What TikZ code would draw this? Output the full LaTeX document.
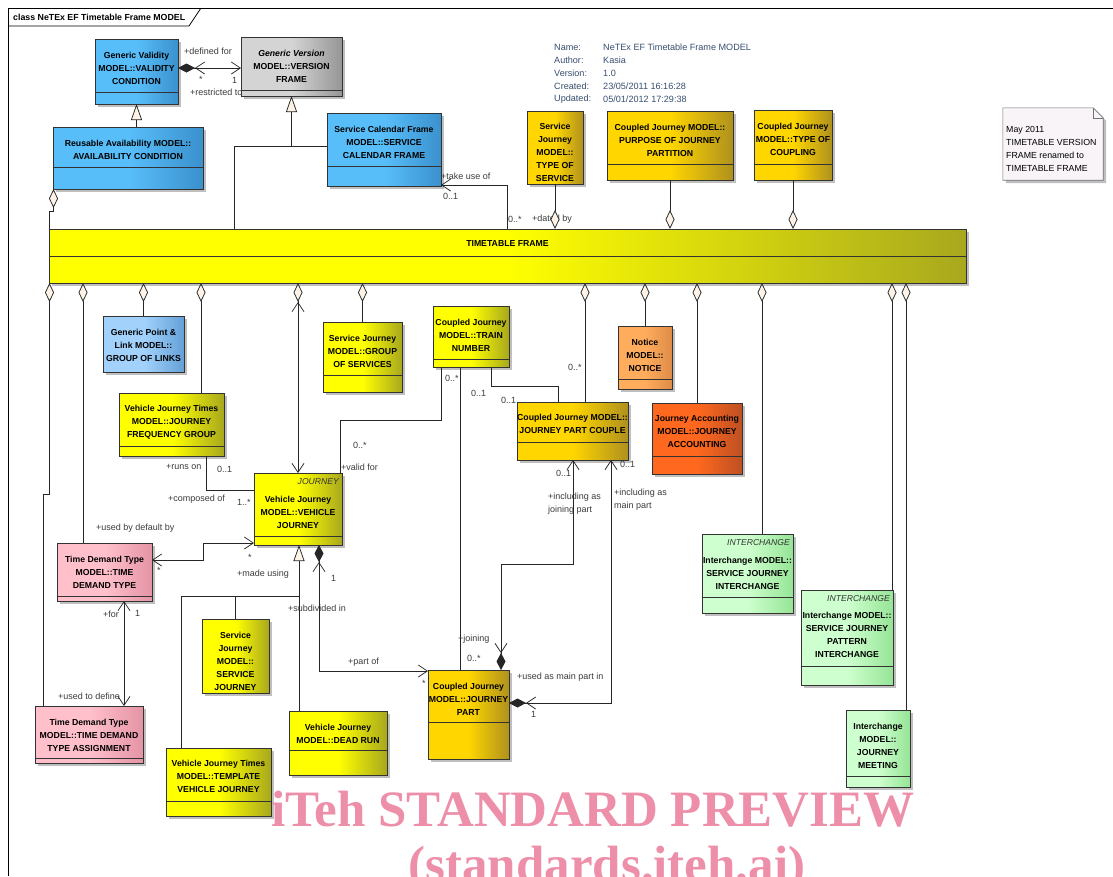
\documentclass[tikz,border=0pt]{standalone}
\usepackage{fontspec}
\setmainfont{Liberation Sans}
\newfontfamily\wmfont{Liberation Serif}
\usetikzlibrary{arrows.meta,shadows,fit,calc}

\definecolor{blueA}{RGB}{88,190,250}   \definecolor{blueB}{RGB}{58,145,205}
\definecolor{lblueA}{RGB}{162,210,252} \definecolor{lblueB}{RGB}{100,160,215}
\definecolor{grayA}{RGB}{212,212,212}  \definecolor{grayB}{RGB}{150,150,150}
\definecolor{yelA}{RGB}{255,255,0}     \definecolor{yelB}{RGB}{168,168,30}
\definecolor{goldA}{RGB}{255,214,0}    \definecolor{goldB}{RGB}{175,145,30}
\definecolor{orA}{RGB}{255,172,92}     \definecolor{orB}{RGB}{222,140,72}
\definecolor{dorA}{RGB}{255,104,30}    \definecolor{dorB}{RGB}{190,80,35}
\definecolor{pinkA}{RGB}{255,192,203}  \definecolor{pinkB}{RGB}{228,148,165}
\definecolor{grnA}{RGB}{206,255,206}   \definecolor{grnB}{RGB}{150,228,150}
\definecolor{notefill}{RGB}{248,244,248}
\definecolor{aggfill}{RGB}{253,243,230}
\definecolor{wmpink}{RGB}{238,143,170}
\definecolor{metatext}{RGB}{55,78,110}
\definecolor{lbltext}{RGB}{60,60,60}

% class box: name, fill style, x1, y1, x2, y2, divider y, text centre y, text
\newcommand\umlclass[9]{%
  \node[classbox,#2,fit={(#3,#4) (#5,#6)}] (#1) {};
  \draw[divider] (#3,#7) -- (#5,#7);
  \node[classname] (#1-name) at ({(#3+#5)/2},#8) {#9};}

\tikzset{
  navtip/.tip={Straight Barb[length=9pt,width=12pt]},
  comptip/.tip={Diamond[length=17pt,width=9pt]},
  aggtip/.tip={Diamond[length=19pt,width=9pt,fill=aggfill]},
  gentip/.tip={Triangle[length=16pt,width=11pt,fill=aggfill]},
  classbox/.style={draw=black!80, line width=0.8pt, inner sep=0pt, outer sep=0pt,
    drop shadow={shadow xshift=3pt, shadow yshift=-3pt, fill=black, opacity=0.25}},
  divider/.style={draw=black!80, line width=0.8pt},
  classname/.style={font=\fontsize{8.7}{13}\selectfont\bfseries, align=center, inner sep=0pt},
  stereo/.style={font=\fontsize{8.6}{10}\selectfont\itshape, text=black!80, inner sep=0pt, anchor=east},
  fblue/.style={left color=blueA, right color=blueB, middle color=blueA},
  flblue/.style={left color=lblueA, right color=lblueB, middle color=lblueA},
  fgray/.style={left color=grayA, right color=grayB, middle color=grayA},
  fyel/.style={left color=yelA, right color=yelB, middle color=yelA},
  fgold/.style={left color=goldA, right color=goldB, middle color=goldA},
  forange/.style={left color=orA, right color=orB, middle color=orA},
  fdorange/.style={left color=dorA, right color=dorB, middle color=dorA},
  fpink/.style={left color=pinkA, right color=pinkB, middle color=pinkA},
  fgreen/.style={left color=grnA, right color=grnB, middle color=grnA},
  conn/.style={draw=black!85, line width=0.75pt},
  lbl/.style={font=\fontsize{9}{10}\selectfont, text=lbltext, inner sep=0pt, anchor=west},
  meta/.style={font=\fontsize{9.1}{10}\selectfont, text=metatext, inner sep=0pt, anchor=west},
  wm/.style={font=\wmfont\bfseries\fontsize{51}{51}\selectfont, text=wmpink, inner sep=0pt, anchor=base},
}

\begin{document}
\begin{tikzpicture}[x=1pt,y=-1pt]
\useasboundingbox[fill=white] (0,0) rectangle (1113,876);

% diagram frame and title tab
\draw[black, line width=0.8pt] (8,876) -- (8,8) -- (1113,8);
\draw[black, line width=0.8pt] (8,26) -- (189,26) -- (201,8);
\node[font=\fontsize{8.8}{10}\selectfont\bfseries, inner sep=0pt, anchor=west] (title) at (13,17)
  {class NeTEx EF Timetable Frame MODEL};

% diagram properties
\node[meta] (mk1) at (554,47) {Name:};
\node[meta] (mk2) at (554,60) {Author:};
\node[meta] (mk3) at (554,73) {Version:};
\node[meta] (mk4) at (554,86) {Created:};
\node[meta] (mk5) at (554,99) {Updated:};
\node[meta] (mv1) at (603,47) {NeTEx EF Timetable Frame MODEL};
\node[meta] (mv2) at (603,60) {Kasia};
\node[meta] (mv3) at (603,73) {1.0};
\node[meta] (mv4) at (603,86) {23/05/2011 16:16:28};
\node[meta] (mv5) at (603,99) {05/01/2012 17:29:38};

% note
\node[fit={(1003,108) (1103,180)}, inner sep=0pt] (note) {};
\path[draw=black!55, fill=notefill, line width=0.6pt,
      drop shadow={shadow xshift=3pt, shadow yshift=-3pt, fill=black, opacity=0.25}]
  (note.north west) -- ([xshift=-10pt]note.north east) -- ([yshift=-10pt]note.north east)
  -- (note.south east) -- (note.south west) -- cycle;
\draw[black!55, line width=0.6pt] ([xshift=-10pt]note.north east) |- ([yshift=-10pt]note.north east);
\node[font=\fontsize{8.8}{13}\selectfont, align=left, inner sep=0pt, anchor=west] (note-text) at (1006,148.5)
  {May 2011\\TIMETABLE VERSION\\FRAME renamed to\\TIMETABLE FRAME};

% classes
\umlclass{gvc}{fblue}{95}{39}{178}{104}{92}{68}{Generic Validity\\MODEL::VALIDITY\\CONDITION}
\umlclass{gvf}{fgray}{241}{37}{342}{96}{90}{66}{\itshape Generic Version\\MODEL::VERSION\\FRAME}
\umlclass{rac}{fblue}{53}{127}{203}{189}{167}{150}{Reusable Availability MODEL::\\AVAILABILITY CONDITION}
\umlclass{scf}{fblue}{327}{113}{441}{186}{166}{142}{Service Calendar Frame\\MODEL::SERVICE\\CALENDAR FRAME}
\umlclass{tos}{fgold}{527}{111}{583}{184}{184}{152}{Service\\Journey\\MODEL::\\TYPE OF\\SERVICE}
\umlclass{pjp}{fgold}{607}{111}{733}{180}{164}{140}{Coupled Journey MODEL::\\PURPOSE OF JOURNEY\\PARTITION}
\umlclass{toc}{fgold}{754}{110}{832}{180}{164}{139}{Coupled Journey\\MODEL::TYPE OF\\COUPLING}
\umlclass{ttf}{fyel}{49}{229}{966}{283}{256}{244}{TIMETABLE FRAME}
\umlclass{gpl}{flblue}{103}{316}{184}{372}{372}{345}{Generic Point \&\\Link MODEL::\\GROUP OF LINKS}
\umlclass{sjg}{fyel}{323}{322}{402}{392}{375}{351}{Service Journey\\MODEL::GROUP\\OF SERVICES}
\umlclass{tn}{fyel}{433}{306}{509}{367}{359}{335}{Coupled Journey\\MODEL::TRAIN\\NUMBER}
\umlclass{notice}{forange}{618}{326}{672}{389}{379}{355}{Notice\\MODEL::\\NOTICE}
\umlclass{jpc}{fgold}{517}{402}{628}{460}{442}{424}{Coupled Journey MODEL::\\JOURNEY PART COUPLE}
\umlclass{ja}{fdorange}{652}{403}{742}{474}{456}{431}{Journey Accounting\\MODEL::JOURNEY\\ACCOUNTING}
\umlclass{jfg}{fyel}{119}{393}{224}{456}{446}{422}{Vehicle Journey Times\\MODEL::JOURNEY\\FREQUENCY GROUP}
\umlclass{vj}{fyel}{254}{473}{342}{545}{536}{512}{Vehicle Journey\\MODEL::VEHICLE\\JOURNEY}
\umlclass{tdt}{fpink}{57}{543}{152}{601}{596}{572}{Time Demand Type\\MODEL::TIME\\DEMAND TYPE}
\umlclass{sji}{fgreen}{702}{534}{793}{613}{597}{573}{Interchange MODEL::\\SERVICE JOURNEY\\INTERCHANGE}
\umlclass{sjpi}{fgreen}{801}{590}{893}{685}{666}{634.5}{Interchange MODEL::\\SERVICE JOURNEY\\PATTERN\\INTERCHANGE}
\umlclass{jm}{fgreen}{846}{710}{910}{787}{776}{745.5}{Interchange\\MODEL::\\JOURNEY\\MEETING}
\umlclass{sj}{fyel}{202}{619}{269}{693}{693}{661}{Service\\Journey\\MODEL::\\SERVICE\\JOURNEY}
\umlclass{dr}{fyel}{289}{711}{387}{775}{750}{733.5}{Vehicle Journey\\MODEL::DEAD RUN}
\umlclass{tvj}{fyel}{166}{748}{271}{816}{801}{776}{Vehicle Journey Times\\MODEL::TEMPLATE\\VEHICLE JOURNEY}
\umlclass{jp}{fgold}{428}{670}{509}{759}{722}{699}{Coupled Journey\\MODEL::JOURNEY\\PART}
\umlclass{tdta}{fpink}{35}{706}{143}{763}{758}{735}{Time Demand Type\\MODEL::TIME DEMAND\\TYPE ASSIGNMENT}

% stereotypes
\node[stereo] (vj-st) at (339,482) {JOURNEY};
\node[stereo] (sji-st) at (790,543) {INTERCHANGE};
\node[stereo] (sjpi-st) at (890,599) {INTERCHANGE};

% association end labels
\node[lbl] (a1) at (184,51) {+defined for};
\node[lbl] (a2) at (199,79) {*};
\node[lbl] (a3) at (232,80) {1};
\node[lbl] (a4) at (190,92) {+restricted to};
\node[lbl] (a5) at (441,176) {+take use of};
\node[lbl] (a6) at (443,196) {0..1};
\node[lbl] (a7) at (508,219) {0..*};
\node[lbl] (a8) at (532,219) {+dated by};
\node[lbl] (b1) at (96,528) {+used by default by};
\node[lbl] (b2) at (166,467) {+runs on};
\node[lbl] (b3) at (217,469) {0..1};
\node[lbl] (b4) at (168,499) {+composed of};
\node[lbl] (b5) at (237,502) {1..*};
\node[lbl] (b6) at (157,570) {*};
\node[lbl] (b7) at (248,557) {*};
\node[lbl] (b8) at (237,574) {+made using};
\node[lbl] (b9) at (288,608) {+subdivided in};
\node[lbl] (b10) at (331,578) {1};
\node[lbl] (b11) at (103,614) {+for};
\node[lbl] (b12) at (135,613) {1};
\node[lbl] (b13) at (58,696) {+used to define};
\node[lbl] (c1) at (445,378) {0..*};
\node[lbl] (c2) at (353,445) {0..*};
\node[lbl] (c3) at (341,467) {+valid for};
\node[lbl] (c4) at (471,393) {0..1};
\node[lbl] (c5) at (501,400) {0..1};
\node[lbl] (c6) at (568,367) {0..*};
\node[lbl] (c7) at (556,473) {0..1};
\node[lbl] (c8) at (548,497) {+including as};
\node[lbl] (c9) at (548,510) {joining part};
\node[lbl] (c10) at (620,464) {0..1};
\node[lbl] (c11) at (614,493) {+including as};
\node[lbl] (c12) at (614,506) {main part};
\node[lbl] (d1) at (348,662) {+part of};
\node[lbl] (d2) at (422,683) {*};
\node[lbl] (d3) at (458,639) {+joining};
\node[lbl] (d4) at (467,658) {0..*};
\node[lbl] (d5) at (517,677) {+used as main part in};
\node[lbl] (d6) at (531,714) {1};

% connectors above the frame class
\draw[conn,{comptip[] navtip[]}-{navtip[]}] ([yshift=3.5pt]gvc.east) -- ([yshift=3.5pt]gvc.east -| gvf.west);
\draw[conn,{gentip[]}-] (gvc.south) -- (gvc.south |- rac.north);
\draw[conn,{gentip[]}-] (gvf.south) |- ([yshift=3.5pt]scf.west);
\draw[conn] ([xshift=185pt]ttf.north west) |- ([yshift=3.5pt]scf.west);
\draw[conn,{navtip[]}-] ([yshift=1pt]scf.south east) -| ([xshift=458pt]ttf.north west);
\draw[conn,{aggtip[]}-] (ttf.north -| tos.south) -- (tos.south);
\draw[conn,{aggtip[]}-] (ttf.north -| pjp.south) -- (pjp.south);
\draw[conn,{aggtip[]}-] (ttf.north -| toc.south) -- (toc.south);
\draw[conn,{aggtip[]}-] ([xshift=.5pt]rac.south west) -- ++(0,22) -| ([xshift=.5pt]ttf.north west);

% connectors below the frame class
\draw[conn,{aggtip[]}-] ([xshift=.5pt]ttf.south west) -- ++(0,211) -| ([xshift=8pt]tdta.north west);
\draw[conn,{aggtip[]}-] ([xshift=34pt]ttf.south west) -- ([xshift=26pt]tdt.north west);
\draw[conn,{aggtip[]}-] (ttf.south -| gpl.north) -- (gpl.north);
\draw[conn,{aggtip[]}-] ([xshift=152pt]ttf.south west) -- ([xshift=82pt]jfg.north west);
\draw[conn,{aggtip[] navtip[]}-{navtip[]}] ([xshift=249pt]ttf.south west) -- ([xshift=44pt]vj.north west);
\draw[conn,{aggtip[]}-] (ttf.south -| sjg.north) -- (sjg.north);
\draw[conn,{aggtip[]}-] ([xshift=536pt]ttf.south west) -- ([xshift=68pt]jpc.north west);
\draw[conn,{aggtip[]}-] (ttf.south -| notice.north) -- (notice.north);
\draw[conn,{aggtip[]}-] (ttf.south -| ja.north) -- (ja.north);
\draw[conn,{aggtip[]}-] ([xshift=713pt]ttf.south west) -- ([xshift=60pt]sji.north west);
\draw[conn,{aggtip[]}-] ([xshift=-74pt]ttf.south east) -- ([xshift=-1pt]sjpi.north east);
\draw[conn,{aggtip[]}-] ([xshift=-60pt]ttf.south east) -- ([xshift=-4pt]jm.north east);

% journey associations
\draw[conn] ([xshift=87pt]jfg.south west) |- ([yshift=19pt]vj.west);
\draw[conn] ([xshift=8pt]tn.south west) -- ++(0,53) -| ([xshift=-2pt]vj.north east);
\draw[conn] ([xshift=58pt]tn.south west) -- ++(0,19) -| ([xshift=41pt]jpc.north west);
\draw[conn] ([xshift=27pt]tn.south west) -- ([xshift=32pt]jp.north west);
\draw[conn,{navtip[]}-{navtip[]}] ([yshift=12pt]tdt.east) -- ++(51,0) |- ([yshift=2pt]vj.south west);
\draw[conn,{navtip[]}-{navtip[]}] ([xshift=67pt]tdt.south west) -- ([xshift=89pt]tdta.north west);

% vehicle journey specialisations
\coordinate (gsplit) at ([xshift=45pt,yshift=-51pt]vj.south west);
\draw[conn,{gentip[]}-] ([xshift=45pt]vj.south west) -- ([xshift=10pt]dr.north west);
\draw[conn] ([xshift=15pt]tvj.north west) |- (gsplit);
\draw[conn] (sj.north) -- (sj.north |- gsplit);

% journey parts
\draw[conn,{comptip[] navtip[]}-{navtip[]}] ([xshift=65pt]vj.south west) |- ([yshift=-1pt]jp.north west);
\draw[conn,{navtip[]}-{navtip[] comptip[]}] ([xshift=56pt]jpc.south west) -- ++(0,104) -| ([xshift=73pt]jp.north west);
\draw[conn,{navtip[]}-{navtip[] comptip[]}] ([xshift=94pt]jpc.south west) |- ([yshift=11.5pt]jp.east);

% watermark
\node[wm] (wm1) at (593,826) {iTeh STANDARD PREVIEW};
\node[wm] (wm2) at (607,881) {(standards.iteh.ai)};
\end{tikzpicture}
\end{document}
